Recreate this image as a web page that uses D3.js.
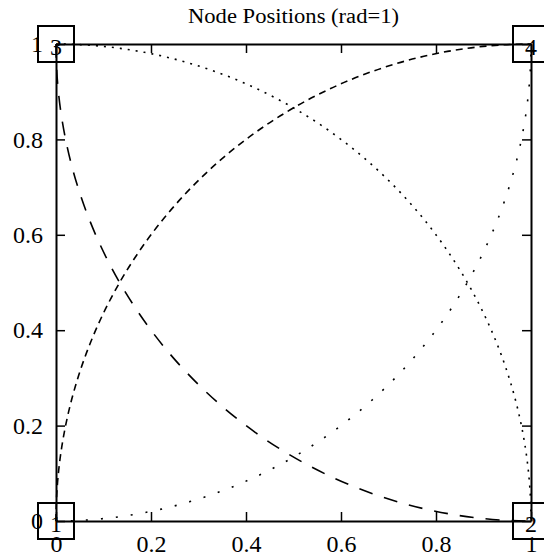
<!DOCTYPE html>
<html>
<head>
<meta charset="utf-8">
<script src="https://cdn.jsdelivr.net/npm/d3@7"></script>
<style>
  body { margin: 0; background: #fff; }
  text { font-family: "Liberation Serif", "DejaVu Serif", serif; fill: #000; }
</style>
</head>
<body>
<div class="chart"></div>
<script>
// Node positions on the unit square, and the quarter-circle arcs joining them.

var nodeIds = [1, 2, 3, 4];
var nodeX = [0, 1, 0, 1];
var nodeY = [0, 0, 1, 1];

// each arc: from node, to node, centre of the circle (rad=1), dash style
var arcFrom = [3, 1, 3, 1];
var arcTo = [2, 4, 2, 4];
var arcCx = [1, 1, 0, 0];
var arcCy = [1, 0, 0, 1];
var arcDash = ["14,12", "7,5", "2,6", "2,13"];

var xTicks = [0, 0.2, 0.4, 0.6, 0.8, 1];
var yTicks = [0, 0.2, 0.4, 0.6, 0.8, 1];

var width = 544,
	height = 556,
	margin = {top: 44, right: 13, bottom: 35, left: 56},
	svg = d3.select(".chart").append("svg")
		.attr("width", width)
		.attr("height", height);

var x = d3.scaleLinear().domain([0, 1]).range([margin.left, width - margin.right]),
	y = d3.scaleLinear().domain([0, 1]).range([height - margin.bottom, margin.top]);

function fmt(d) { return d3.format("~g")(d); }

function styleAxis(g) {
	g.selectAll("path").attr("stroke", "#000").attr("stroke-width", 2);
	g.selectAll("line").attr("stroke", "#000").attr("stroke-width", 1.5);
	g.selectAll("text").style("font-size", "24px").attr("fill", "#000");
	g.attr("font-family", null);
}

svg.append("g")
	.attr("transform", "translate(0," + y(0) + ")")
	.call(d3.axisBottom(x).tickValues(xTicks).tickFormat(fmt).tickSizeInner(-9).tickSizeOuter(0).tickPadding(14))
	.call(styleAxis);

svg.append("g")
	.attr("transform", "translate(0," + y(1) + ")")
	.call(d3.axisTop(x).tickValues(xTicks).tickFormat("").tickSizeInner(-9).tickSizeOuter(0))
	.call(styleAxis);

svg.append("g")
	.attr("transform", "translate(" + x(0) + ",0)")
	.call(d3.axisLeft(y).tickValues(yTicks).tickFormat(fmt).tickSizeInner(-9).tickSizeOuter(0).tickPadding(13))
	.call(styleAxis);

svg.append("g")
	.attr("transform", "translate(" + x(1) + ",0)")
	.call(d3.axisRight(y).tickValues(yTicks).tickFormat("").tickSizeInner(-9).tickSizeOuter(0))
	.call(styleAxis);

// arcs, drawn as svg elliptical arcs through the scales
var rx = x(1) - x(0),
	ry = y(0) - y(1);

var arcs = arcFrom.map(function(f, i) {
	return {from: nodeIds.indexOf(f), to: nodeIds.indexOf(arcTo[i]), cx: arcCx[i], cy: arcCy[i], dash: arcDash[i]};
});

svg.selectAll(".arc")
	.data(arcs)
	.enter().append("path")
		.attr("class", "arc")
		.attr("fill", "none")
		.attr("stroke", "#000")
		.attr("stroke-width", 1.6)
		.attr("stroke-dasharray", function(d) { return d.dash; })
		.attr("d", function(d) {
			var x0 = x(nodeX[d.from]), y0 = y(nodeY[d.from]),
				x1 = x(nodeX[d.to]), y1 = y(nodeY[d.to]),
				cx = x(d.cx), cy = y(d.cy);
			var a0 = Math.atan2(y0 - cy, x0 - cx),
				a1 = Math.atan2(y1 - cy, x1 - cx),
				da = a1 - a0;
			while (da > Math.PI) da -= 2 * Math.PI;
			while (da < -Math.PI) da += 2 * Math.PI;
			var sweep = da > 0 ? 1 : 0;
			return "M" + x0 + "," + y0 + "A" + rx + "," + ry + " 0 0 " + sweep + " " + x1 + "," + y1;
		});

// node boxes and labels
var box = 36;
var nodes = svg.selectAll(".node")
	.data(nodeIds)
	.enter().append("g")
		.attr("class", "node")
		.attr("transform", function(d, i) { return "translate(" + x(nodeX[i]) + "," + y(nodeY[i]) + ")"; });

nodes.append("rect")
	.attr("x", -box / 2)
	.attr("y", -box / 2)
	.attr("width", box)
	.attr("height", box)
	.attr("fill", "none")
	.attr("stroke", "#000")
	.attr("stroke-width", 2);

nodes.append("text")
	.attr("text-anchor", "middle")
	.attr("dy", "0.45em")
	.style("font-size", "24px")
	.text(function(d) { return d; });

svg.append("text")
	.attr("x", (x(0) + x(1)) / 2)
	.attr("y", 23)
	.attr("text-anchor", "middle")
	.attr("textLength", 211)
	.attr("lengthAdjust", "spacingAndGlyphs")
	.style("font-size", "20px")
	.text("Node Positions (rad=1)");
</script>
</body>
</html>
